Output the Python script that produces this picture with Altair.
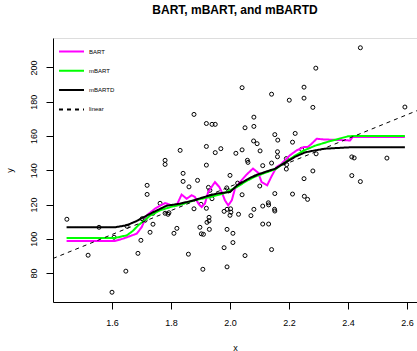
import altair as alt
import pandas as pd

# ---- scatter data ----
obs_x = [1.447, 1.556, 1.519, 1.600, 1.607, 1.651, 1.647, 1.688, 1.698, 1.702,
         1.712, 1.719, 1.719, 1.729, 1.739, 1.739, 1.763, 1.780, 1.780, 1.780,
         1.790, 1.793, 1.810, 1.820, 1.831, 1.841, 1.841, 1.861, 1.859, 1.878,
         1.878, 1.890, 1.898, 1.902, 1.903, 1.910, 1.908, 1.920, 1.920, 1.920,
         1.920, 1.922, 1.929, 1.929, 1.930, 1.927, 1.932, 1.939, 1.950, 1.939,
         1.950, 1.969, 1.989, 1.996, 1.980, 1.990, 2.002, 2.000, 2.003, 1.980,
         1.990, 1.990, 2.000, 2.010, 2.010, 2.020, 2.026, 2.029, 2.041, 2.041,
         2.041, 2.051, 2.051, 2.059, 2.061, 2.071, 2.081, 2.081, 2.080, 2.092,
         2.081, 2.102, 2.101, 2.111, 2.111, 2.111, 2.130, 2.131, 2.131, 2.141,
         2.141, 2.141, 2.152, 2.162, 2.161, 2.161, 2.152, 2.151, 2.152, 2.191,
         2.192, 2.191, 2.201, 2.212, 2.212, 2.221, 2.243, 2.251, 2.251, 2.251,
         2.252, 2.263, 2.281, 2.281, 2.291, 2.292, 2.413, 2.421, 2.413, 2.442,
         2.442, 2.532, 2.593]
obs_y = [111.4, 106.7, 90.4, 68.8, 100.9, 107.3, 81.1, 91.5, 99.1, 111.7,
         110.8, 131.2, 125.9, 103.8, 114.9, 108.5, 120.7, 145.8, 143.4, 114.9,
         114.3, 115.2, 103.2, 106.1, 151.6, 138.2, 133.5, 130.3, 91.0, 172.6,
         117.5, 134.1, 106.7, 120.1, 102.9, 102.6, 82.2, 167.3, 153.9, 143.0,
         117.8, 109.6, 112.5, 110.5, 105.5, 130.0, 128.3, 166.8, 166.8, 123.4,
         150.3, 152.6, 129.7, 128.0, 116.0, 117.2, 117.5, 113.7, 115.5, 94.8,
         105.5, 83.6, 137.0, 103.2, 97.8, 149.9, 132.5, 114.3, 188.2, 151.9,
         125.7, 164.8, 90.2, 145.8, 144.6, 113.5, 171.0, 165.6, 157.1, 155.5,
         117.2, 151.3, 130.8, 142.7, 119.1, 108.6, 121.0, 119.8, 108.6, 184.4,
         144.2, 93.7, 160.8, 157.6, 150.8, 147.9, 126.4, 117.2, 116.2, 146.8,
         143.3, 140.7, 180.9, 156.4, 126.1, 161.5, 152.2, 188.5, 182.1, 135.1,
         124.8, 123.0, 176.7, 139.6, 199.6, 149.6, 147.8, 147.2, 136.9, 211.5,
         133.4, 147.1, 176.9]

# ---- fitted curves ----
bart_x = [1.446, 1.610, 1.638, 1.684, 1.701, 1.718, 1.746, 1.780, 1.802, 1.819,
          1.836, 1.853, 1.870, 1.881, 1.893, 1.904, 1.915, 1.926, 1.949, 1.964,
          1.972, 1.983, 1.994, 2.006, 2.017, 2.034, 2.057, 2.078, 2.096, 2.107,
          2.126, 2.141, 2.158, 2.175, 2.203, 2.226, 2.249, 2.264, 2.277, 2.294,
          2.317, 2.407, 2.416, 2.593]
bart_y = [98.7, 98.7, 100.1, 103.0, 106.9, 113.7, 117.6, 120.9, 119.5, 119.5,
          125.8, 123.4, 125.4, 124.4, 120.5, 118.5, 120.5, 127.3, 133.1, 130.2,
          127.3, 122.4, 119.5, 122.4, 129.3, 133.1, 137.6, 141.0, 138.5, 133.1,
          131.2, 136.5, 141.9, 143.8, 148.7, 151.6, 153.5, 153.6, 155.5, 158.4,
          158.0, 157.4, 159.4, 159.4]

mbart_x = [1.446, 1.610, 1.650, 1.670, 1.690, 1.712, 1.729, 1.763, 1.798, 1.844,
           1.878, 1.932, 1.977, 2.023, 2.057, 2.085, 2.119, 2.153, 2.186, 2.220,
           2.254, 2.288, 2.339, 2.400, 2.417, 2.593]
mbart_y = [100.5, 100.5, 102.0, 104.5, 108.0, 111.0, 113.5, 116.6, 118.5, 120.5,
           122.4, 124.4, 126.4, 130.2, 133.8, 136.3, 138.5, 140.5, 144.5, 148.5,
           151.8, 154.3, 157.0, 159.8, 160.0, 160.0]

mbartd_x = [1.446, 1.610, 1.650, 1.684, 1.706, 1.740, 1.785, 1.831, 1.876, 1.921,
            1.955, 2.000, 2.023, 2.057, 2.085, 2.119, 2.153, 2.186, 2.220, 2.254,
            2.288, 2.322, 2.407, 2.593]
mbartd_y = [106.7, 106.7, 107.9, 110.4, 112.5, 115.5, 119.3, 120.5, 122.4, 124.8,
            126.4, 127.3, 131.0, 134.5, 137.0, 139.0, 140.9, 144.3, 147.8, 150.4,
            151.6, 152.6, 153.4, 153.5]

linear_x = [1.400, 2.634]
linear_y = [88.5, 174.8]

series_names = ["BART", "mBART", "mBARTD", "linear"]
series_colors = ["#FF00FF", "#00FF00", "#000000", "#000000"]
series_dash = [[1, 0], [1, 0], [1, 0], [4, 4]]

title_text = "BART, mBART, and mBARTD"
x_ticks = [1.6, 1.8, 2.0, 2.2, 2.4, 2.6]
y_ticks = [80, 100, 120, 140, 160, 180, 200]
x_domain = [1.400, 2.634]
y_domain = [63.1, 217.2]

FONT = "Liberation Sans"

obs = pd.DataFrame({"x": obs_x, "y": obs_y})
curves = pd.concat([
    pd.DataFrame({"x": bart_x, "y": bart_y, "series": "BART"}),
    pd.DataFrame({"x": mbart_x, "y": mbart_y, "series": "mBART"}),
    pd.DataFrame({"x": mbartd_x, "y": mbartd_y, "series": "mBARTD"}),
], ignore_index=True)
lin = pd.DataFrame({"x": linear_x, "y": linear_y, "series": "linear"})

xscale = alt.Scale(domain=x_domain, nice=False, zero=False)
yscale = alt.Scale(domain=y_domain, nice=False, zero=False)

x_axis = alt.Axis(values=x_ticks, format=".1f", title="x", grid=False,
                  tickSize=7, tickColor="black", domainColor="black",
                  labelFont=FONT, labelFontSize=9, labelColor="black",
                  labelPadding=9, titleFont=FONT, titleFontSize=9,
                  titleFontWeight="normal", titleColor="black",
                  titleY=48, titleBaseline="alphabetic")
y_axis = alt.Axis(values=y_ticks, format="d", title="y", grid=False,
                  tickSize=7, tickColor="black", domainColor="black",
                  labelFont=FONT, labelFontSize=9, labelColor="black",
                  labelAngle=270, labelAlign="center", labelBaseline="alphabetic",
                  labelPadding=10, titleFont=FONT, titleFontSize=9,
                  titleFontWeight="normal", titleColor="black",
                  titleAngle=270, titleX=-44, titleY=132, titleAlign="center",
                  titleBaseline="middle")

legend = alt.Legend(title=None, orient="none", legendX=5, legendY=5,
                    symbolType="stroke", symbolSize=625, symbolStrokeWidth=2,
                    labelFont=FONT, labelFontSize=6, labelColor="black",
                    labelOffset=4, clipHeight=17, rowPadding=2.3, padding=0,
                    symbolOffset=0)

color_enc = alt.Color("series:N", scale=alt.Scale(domain=series_names, range=series_colors),
                      legend=legend)
dash_enc = alt.StrokeDash("series:N", scale=alt.Scale(domain=series_names, range=series_dash),
                          legend=legend)

xenc = alt.X("x:Q", scale=xscale, axis=x_axis)
yenc = alt.Y("y:Q", scale=yscale, axis=y_axis)

points = alt.Chart(obs).mark_point(shape="circle", filled=False, size=16,
                                   strokeWidth=1, color="black", opacity=1).encode(
    x=xenc, y=yenc,
)

curve_layer = alt.Chart(curves).mark_line(strokeWidth=2).encode(
    x=xenc, y=yenc, color=color_enc, strokeDash=dash_enc,
)

lin_layer = alt.Chart(lin).mark_line(strokeWidth=1, clip=True).encode(
    x=xenc, y=yenc, color=color_enc, strokeDash=dash_enc,
)

chart = alt.layer(points, curve_layer, lin_layer).properties(
    width=364, height=264,
    autosize=alt.AutoSizeParams(type="none"),
    padding={"left": 53, "top": 38, "right": 0, "bottom": 49},
    title=alt.TitleParams(title_text, font=FONT, fontSize=12, fontWeight="bold",
                          color="black", anchor="middle", baseline="alphabetic",
                          offset=12),
).configure_view(stroke="#555555", strokeWidth=1).configure(background="white")

chart.save("out.html", embed_options={"renderer": "svg", "actions": False})
